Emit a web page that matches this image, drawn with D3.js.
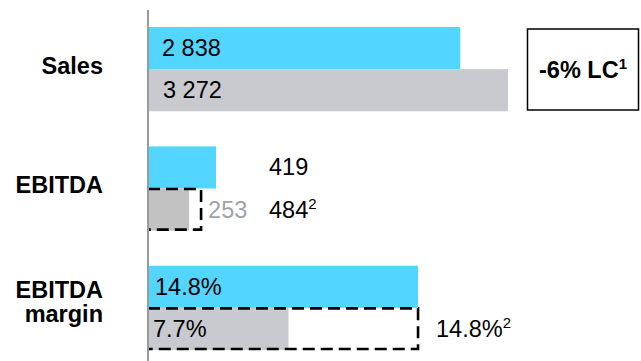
<!DOCTYPE html>
<html>
<head>
<meta charset="utf-8">
<script src="https://cdn.jsdelivr.net/npm/d3@7"></script>
<style>
  html, body { margin: 0; padding: 0; background: #fff; }
  svg { display: block; font-family: "Liberation Sans", Arial, sans-serif; }
</style>
</head>
<body>
<svg id="chart" width="641" height="361"></svg>
<script>
// Metrics shown as rows; each row has a current (blue) and prior (gray) bar
const categories = ["Sales", "EBITDA", "EBITDA margin"];
const categoryLines = [["Sales"], ["EBITDA"], ["EBITDA", "margin"]];
const currentValues = [2838, 419, 14.8];
const priorValues = [3272, 253, 7.7];
const currentLabels = ["2 838", "419", "14.8%"];
const priorLabels = ["3 272", "253", "7.7%"];
// Adjusted prior-year figures, drawn as dashed outlines
const adjustedValues = [null, 327, 14.8];
const adjustedLabels = [null, "484", "14.8%"];
// Each metric has its own scale maximum
const scaleMax = [3272, 2218, 19.73];
const changeNote = { text: "-6% LC", sup: "1" };

const blue = "#52d6ff";
const gray = "#c8cacf";
const grayEbitda = "#c2c2c2";

const svg = d3.select("#chart");
const x0 = 148, barSpan = 360;

const y = d3.scaleBand().domain(categories).range([27, 350]).paddingInner(0.294);
const ySub = d3.scaleBand().domain(["current", "prior"]).range([0, y.bandwidth()]);

const xScales = categories.map((c, i) =>
  d3.scaleLinear().domain([0, scaleMax[i]]).range([x0, x0 + barSpan]));

const rows = categories.map((c, i) => ({
  cat: c, i, lines: categoryLines[i],
  cur: currentValues[i], prior: priorValues[i], adj: adjustedValues[i],
  curLabel: currentLabels[i], priorLabel: priorLabels[i], adjLabel: adjustedLabels[i],
  x: xScales[i]
}));

const g = svg.selectAll("g.row").data(rows).join("g")
  .attr("class", "row")
  .attr("transform", d => `translate(0,${y(d.cat)})`);

// current bars
g.append("rect")
  .attr("x", d => d.x(0))
  .attr("y", ySub("current"))
  .attr("width", d => d.x(d.cur) - d.x(0))
  .attr("height", ySub.bandwidth())
  .attr("fill", blue);

// prior bars
g.append("rect")
  .attr("x", d => d.x(0))
  .attr("y", ySub("prior"))
  .attr("width", d => d.x(d.prior) - d.x(0))
  .attr("height", ySub.bandwidth())
  .attr("fill", d => d.i === 1 ? grayEbitda : gray);

// adjusted dashed outlines (top, right, bottom)
g.filter(d => d.adj != null).append("path")
  .attr("d", d => {
    const xa = d.x(0), xb = d.x(d.adj);
    const ya = ySub("prior") + 0.5, yb = ySub("prior") + ySub.bandwidth() - 1;
    return `M${xa},${ya}H${xb}V${yb}H${xa}`;
  })
  .attr("fill", "none")
  .attr("stroke", "#000")
  .attr("stroke-width", 2.6)
  .attr("stroke-dasharray", "12,6");

// category labels, right aligned
const cat = g.append("text")
  .attr("text-anchor", "end")
  .attr("font-weight", "bold")
  .attr("font-size", 23.5)
  .attr("fill", "#000");
cat.each(function(d) {
  const n = d.lines.length;
  const c = y.bandwidth() / 2;
  d3.select(this).selectAll("tspan").data(d.lines).join("tspan")
    .attr("x", 103)
    .attr("y", (l, k) => n === 1 ? c + 5 : c - 10 + k * 24)
    .text(l => l);
});

const valueFont = 23.5;
const baseSub = ySub.bandwidth() / 2 + 8;

// labels inside bars (Sales and margin)
g.filter(d => d.i !== 1).append("text")
  .attr("x", d => d.x(0) + (d.i === 0 ? 14 : 7))
  .attr("y", ySub("current") + baseSub)
  .attr("font-size", valueFont)
  .text(d => d.curLabel);
g.filter(d => d.i !== 1).append("text")
  .attr("x", d => d.x(0) + (d.i === 0 ? 15 : 5))
  .attr("y", ySub("prior") + baseSub)
  .attr("font-size", valueFont)
  .text(d => d.priorLabel);

// EBITDA labels
const eb = g.filter(d => d.i === 1);
eb.append("text")
  .attr("x", 269)
  .attr("y", ySub("current") + baseSub)
  .attr("font-size", valueFont)
  .text(d => d.curLabel);
eb.append("text")
  .attr("x", d => d.x(d.adj) + 7)
  .attr("y", ySub("prior") + baseSub)
  .attr("font-size", valueFont)
  .attr("fill", "#9ca3ab")
  .text(d => d.priorLabel);

// adjusted-value labels with footnote marks
const adjX = d => d.i === 1 ? 269 : d.x(d.adj) + 18;
const adjT = g.filter(d => d.adj != null).append("text")
  .attr("x", adjX)
  .attr("y", ySub("prior") + baseSub)
  .attr("font-size", valueFont);
adjT.append("tspan").text(d => d.adjLabel);
adjT.append("tspan").attr("font-size", 15).attr("dy", -9).text("2");

// vertical axis line
svg.append("line")
  .attr("x1", x0).attr("x2", x0)
  .attr("y1", 10).attr("y2", 361)
  .attr("stroke", "#9a9a9a")
  .attr("stroke-width", 2);

// change note box next to Sales
const boxY = y("Sales") + 2;
svg.append("rect")
  .attr("x", 527.5).attr("y", boxY)
  .attr("width", 111).attr("height", 81)
  .attr("fill", "#fff")
  .attr("stroke", "#000")
  .attr("stroke-width", 1.5);
const nt = svg.append("text")
  .attr("x", 583).attr("y", boxY + 49)
  .attr("text-anchor", "middle")
  .attr("font-weight", "bold")
  .attr("font-size", 23.5);
nt.append("tspan").text(changeNote.text);
nt.append("tspan").attr("font-size", 15).attr("dy", -9).text(changeNote.sup);
</script>
</body>
</html>
